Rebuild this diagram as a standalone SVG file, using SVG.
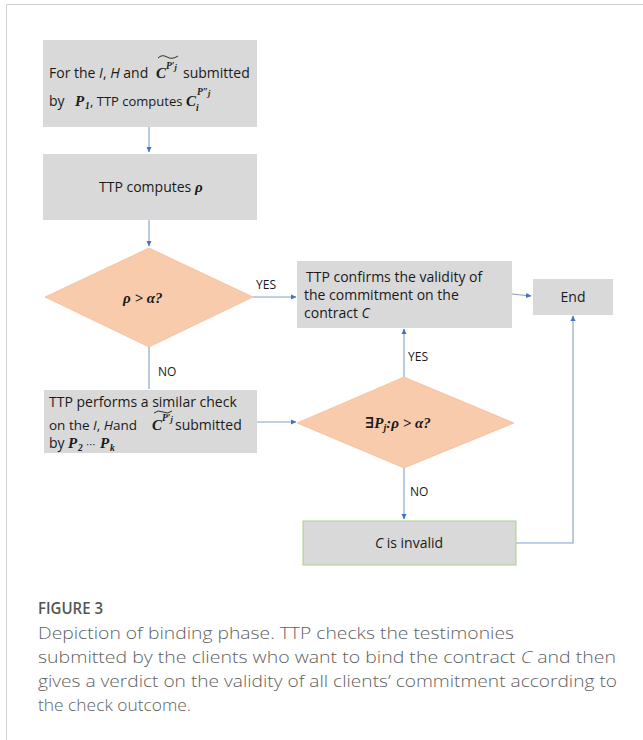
<svg xmlns="http://www.w3.org/2000/svg" width="643" height="740" viewBox="0 0 643 740">
<style>
.box{fill:#d9d9d9;stroke:none}
.dia{fill:#f8cbad;stroke:#f4b48a;stroke-width:0.6}
.t{font-family:"Open Sans","Liberation Sans",sans-serif;font-size:14px;fill:#1a1a1a}
.lbl{font-family:"Open Sans","Liberation Sans",sans-serif;font-size:12px;fill:#1a1a1a}
.m{font-family:"Liberation Serif","DejaVu Serif",serif;font-style:italic;font-weight:bold;font-size:15px;fill:#1a1a1a}
.ms{font-family:"Liberation Serif","DejaVu Serif",serif;font-style:italic;font-weight:bold;font-size:9.5px;fill:#1a1a1a}
.conn{fill:none;stroke:#7f9fd0;stroke-width:1.1}
.cap{font-family:"Open Sans","Liberation Sans",sans-serif;font-size:17px;font-weight:300;fill:#5f5f5f}
.caph{font-family:"Open Sans","Liberation Sans",sans-serif;font-size:17px;font-weight:600;fill:#555}
</style>
<defs>
<marker id="ah" markerWidth="6" markerHeight="6" refX="5" refY="3" orient="auto" markerUnits="userSpaceOnUse">
<path d="M0,0.5 L5.5,3 L0,5.5 Z" fill="#4472c4"/>
</marker>
</defs>
<rect width="643" height="740" fill="#fff"/>
<path d="M6.5,740 V4.5 H643" fill="none" stroke="#d0d0d0" stroke-width="1"/>

<g id="connectors">
<path class="conn" d="M149,127 V152" marker-end="url(#ah)"/>
<path class="conn" d="M149,220 V246" marker-end="url(#ah)"/>
<path class="conn" d="M253,297 H296" marker-end="url(#ah)"/>
<path class="conn" d="M512,294 L531,296" marker-end="url(#ah)"/>
<path class="conn" d="M149,347 V389"/>
<path class="conn" d="M257,422 H296" marker-end="url(#ah)"/>
<path class="conn" d="M404,377 V329" marker-end="url(#ah)"/>
<path class="conn" d="M404,468 V519" marker-end="url(#ah)"/>
<path class="conn" d="M516,543 H573 V316" marker-end="url(#ah)"/>
<text class="lbl" x="256" y="289">YES</text>
<text class="lbl" x="158" y="376">NO</text>
<text class="lbl" x="408" y="361">YES</text>
<text class="lbl" x="410" y="496">NO</text>
</g>

<g id="n1">
<rect class="box" x="43" y="40" width="214" height="87"/>
<text class="t" x="49" y="78">For the <tspan font-style="italic">I</tspan>, <tspan font-style="italic">H</tspan> and</text>
<text class="m" x="156" y="78">C</text>
<text class="ms" x="166" y="69">P′<tspan font-size="8.5" dy="1">j</tspan></text>
<path d="M158,58 Q162,54 167,57 T178,56" fill="none" stroke="#1a1a1a" stroke-width="0.9"/>
<text class="t" x="183" y="78">submitted</text>
<text class="t" x="49" y="106">by</text>
<text class="m" x="75" y="106">P</text>
<text class="ms" x="85" y="109" font-style="normal">1</text>
<text class="t" x="90" y="106" style="font-size:13px">, TTP computes</text>
<text class="m" x="186" y="106">C</text>
<text class="ms" x="196" y="111" font-size="8">i</text>
<text class="ms" x="197" y="95">P″<tspan font-size="8.5" dy="1">j</tspan></text>
</g>

<g id="n2">
<rect class="box" x="43" y="154" width="214" height="66"/>
<text class="t" x="99" y="192">TTP computes <tspan class="m">ρ</tspan></text>
</g>

<g id="n3">
<path class="dia" d="M149,248 L253,297 L149,347 L45,297 Z"/>
<text class="m" x="123" y="303">ρ &gt; α?</text>
</g>

<g id="n4">
<rect class="box" x="297" y="261" width="215" height="67"/>
<text class="t" x="306" y="282">TTP confirms the validity of</text>
<text class="t" x="304" y="300">the commitment on the</text>
<text class="t" x="304" y="318">contract <tspan font-style="italic">C</tspan></text>
</g>

<g id="n5">
<rect class="box" x="533" y="279" width="80" height="36"/>
<text class="t" x="573" y="302" text-anchor="middle">End</text>
</g>

<g id="n6">
<rect class="box" x="44" y="390" width="213" height="63"/>
<text class="t" x="49" y="407">TTP performs a similar check</text>
<text class="t" x="49" y="430" style="font-size:13.5px">on the <tspan font-style="italic">I</tspan>, <tspan font-style="italic">H</tspan>and</text>
<text class="m" x="152" y="430">C</text>
<text class="ms" x="162" y="421">P′<tspan font-size="8.5" dy="1">j</tspan></text>
<path d="M154,413 Q158,409.5 163,412 T172,411" fill="none" stroke="#1a1a1a" stroke-width="0.9"/>
<text class="t" x="175" y="430">submitted</text>
<text class="t" x="49" y="448">by</text>
<text class="m" x="68" y="448">P</text>
<text class="ms" x="78" y="451" font-style="normal">2</text>
<text x="86" y="448" font-family="DejaVu Sans,sans-serif" font-size="10" fill="#1a1a1a">⋯</text>
<text class="m" x="100" y="448">P</text>
<text class="ms" x="110" y="451" font-style="normal" font-weight="bold">k</text>
</g>

<g id="n7">
<path class="dia" d="M404,377 L514,423 L404,468 L297,423 Z"/>
<text class="m" x="365" y="428">∃P<tspan font-size="10" dy="3">j</tspan><tspan dy="-3">:ρ &gt; α?</tspan></text>
</g>

<g id="n8">
<rect x="303" y="521" width="213" height="44" fill="#d9d9d9" stroke="#a9d18e" stroke-width="1"/>
<text class="t" x="409" y="548" text-anchor="middle"><tspan font-style="italic">C</tspan> is invalid</text>
</g>

<g id="caption">
<text class="caph" x="38" y="614" textLength="65" lengthAdjust="spacingAndGlyphs">FIGURE 3</text>
<text class="cap" x="38" y="639" textLength="476" lengthAdjust="spacingAndGlyphs">Depiction of binding phase. TTP checks the testimonies</text>
<text class="cap" x="38" y="663" textLength="578" lengthAdjust="spacingAndGlyphs">submitted by the clients who want to bind the contract <tspan font-style="italic">C</tspan> and then</text>
<text class="cap" x="38" y="687" textLength="579" lengthAdjust="spacingAndGlyphs">gives a verdict on the validity of all clients’ commitment according to</text>
<text class="cap" x="38" y="711" textLength="153" lengthAdjust="spacingAndGlyphs">the check outcome.</text>
</g>
</svg>
